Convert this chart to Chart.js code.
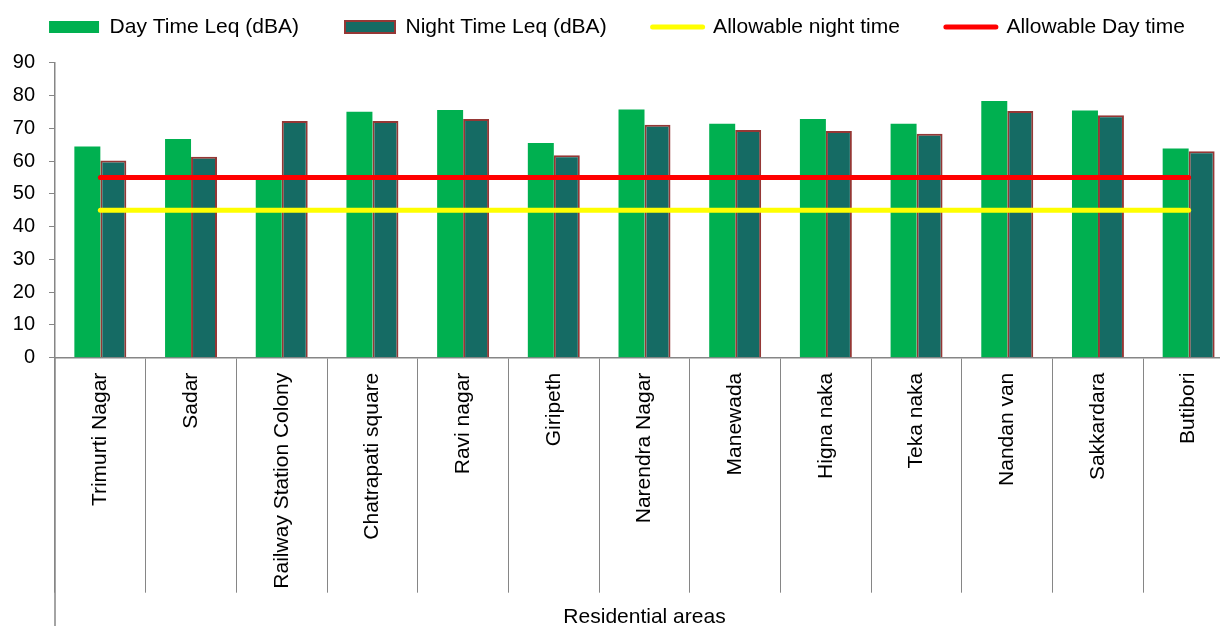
<!DOCTYPE html>
<html>
<head>
<meta charset="utf-8">
<title>Residential areas noise levels</title>
<script src="https://cdn.jsdelivr.net/npm/chart.js@4.4.1/dist/chart.umd.min.js"></script>
<style>
  html, body { margin: 0; padding: 0; background: #ffffff; overflow: hidden; }
  #wrap { width: 1250px; height: 626px; }
</style>
</head>
<body>
<div id="wrap"><canvas id="chart" width="1250" height="626"></canvas></div>
<script>
// Monitoring locations
const categories = [
  'Trimurti Nagar', 'Sadar', 'Railway Station Colony', 'Chatrapati square',
  'Ravi nagar', 'Giripeth', 'Narendra Nagar', 'Manewada', 'Higna naka',
  'Teka naka', 'Nandan van', 'Sakkardara', 'Butibori'
];

// Measured equivalent sound levels, dB(A)
const dayLeq   = [64.4, 66.7, 54.5, 75.0, 75.6, 65.5, 75.7, 71.4, 72.8, 71.4, 78.3, 75.4, 63.8];
const nightLeq = [60.2, 61.3, 72.2, 72.2, 72.8, 61.8, 71.1, 69.5, 69.2, 68.3, 75.3, 74.0, 63.0];

// Permitted limits for residential zones
const allowableNight = [45, 45, 45, 45, 45, 45, 45, 45, 45, 45, 45, 45, 45];
const allowableDay   = [55, 55, 55, 55, 55, 55, 55, 55, 55, 55, 55, 55, 55];

// Value axis ticks
const yTicks = [0, 10, 20, 30, 40, 50, 60, 70, 80, 90];

const AXIS_GREY = '#868686';
const DAY_GREEN = '#00B050';
const NIGHT_TEAL = '#156B64';
const NIGHT_EDGE = '#953735';

Chart.defaults.font.family = "'Liberation Sans', Arial, Helvetica, sans-serif";
Chart.defaults.color = '#000000';

// Extends the value axis line below the category band
const axisTail = {
  id: 'axisTail',
  afterDraw(chart) {
    const { ctx, chartArea } = chart;
    const x = chart.scales.y.right;
    ctx.save();
    ctx.strokeStyle = AXIS_GREY;
    ctx.lineWidth = 1.5;
    ctx.beginPath();
    ctx.moveTo(x, chartArea.bottom);
    ctx.lineTo(x, chart.height);
    ctx.stroke();
    ctx.restore();
  }
};

new Chart(document.getElementById('chart'), {
  data: {
    labels: categories,
    datasets: [
      {
        type: 'bar',
        label: 'Day Time Leq (dBA)',
        data: dayLeq,
        backgroundColor: DAY_GREEN,
        borderWidth: 0,
        order: 1
      },
      {
        type: 'bar',
        label: 'Night Time Leq (dBA)',
        data: nightLeq,
        backgroundColor: NIGHT_TEAL,
        borderColor: NIGHT_EDGE,
        borderWidth: 2,
        order: 1
      },
      {
        type: 'line',
        label: 'Allowable night time',
        data: allowableNight,
        borderColor: '#FFFF00',
        backgroundColor: '#FFFF00',
        borderWidth: 5,
        borderCapStyle: 'round',
        pointRadius: 0,
        fill: false,
        order: 0
      },
      {
        type: 'line',
        label: 'Allowable Day time',
        data: allowableDay,
        borderColor: '#FF0000',
        backgroundColor: '#FF0000',
        borderWidth: 5,
        borderCapStyle: 'round',
        pointRadius: 0,
        fill: false,
        order: 0
      }
    ]
  },
  options: {
    responsive: false,
    animation: false,
    events: [],
    layout: { padding: { top: -29.5, right: 16, bottom: 0, left: 0 } },
    datasets: {
      bar: { categoryPercentage: 0.573, barPercentage: 1.0 }
    },
    plugins: {
      tooltip: { enabled: false },
      // empty spacer between legend and plot
      title: {
        display: true,
        text: '',
        weight: 500,
        font: { size: 10, lineHeight: 1 },
        padding: { top: 0, bottom: 5.2 }
      },
      legend: {
        display: true,
        position: 'top',
        labels: {
          usePointStyle: true,
          pointStyleWidth: 50,
          boxHeight: 12,
          padding: 46,
          color: '#000000',
          font: { size: 21 },
          generateLabels(chart) {
            return chart.data.datasets.map((ds, i) => {
              const isLine = ds.type === 'line';
              return {
                text: ds.label,
                datasetIndex: i,
                hidden: false,
                fontColor: '#000000',
                pointStyle: isLine ? 'line' : 'rect',
                fillStyle: isLine ? ds.borderColor : ds.backgroundColor,
                strokeStyle: isLine ? ds.borderColor : (ds.borderColor || ds.backgroundColor),
                lineWidth: isLine ? 5 : (ds.borderWidth || 0),
                lineCap: isLine ? 'round' : 'butt'
              };
            });
          }
        }
      }
    },
    scales: {
      x: {
        type: 'category',
        offset: true,
        grid: {
          display: true,
          offset: true,
          drawOnChartArea: false,
          drawTicks: true,
          tickLength: 235,
          color: AXIS_GREY,
          lineWidth: 1
        },
        border: { display: true, color: AXIS_GREY, width: 1.5 },
        ticks: {
          autoSkip: false,
          minRotation: 90,
          maxRotation: 90,
          padding: -220,
          color: '#000000',
          font: { size: 21 }
        },
        title: {
          display: true,
          text: 'Residential areas',
          color: '#000000',
          font: { size: 21 },
          padding: { top: 0, bottom: -3.6 }
        },
        afterFit(scale) { scale.height = 268.3; }
      },
      y: {
        type: 'linear',
        min: 0,
        max: 90,
        afterBuildTicks(scale) { scale.ticks = yTicks.map(v => ({ value: v })); },
        grid: {
          display: true,
          drawOnChartArea: false,
          drawTicks: true,
          tickLength: 6,
          color: AXIS_GREY,
          lineWidth: 1
        },
        border: { display: true, color: AXIS_GREY, width: 1.5 },
        ticks: {
          padding: 14,
          color: '#000000',
          font: { size: 20 }
        },
        afterFit(scale) { scale.width = 55; }
      }
    }
  },
  plugins: [axisTail]
});
</script>
</body>
</html>
